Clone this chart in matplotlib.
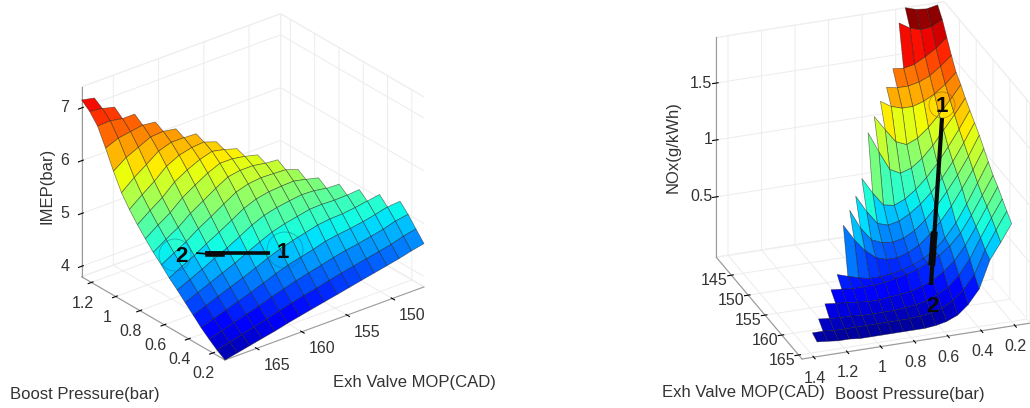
import numpy as np
import matplotlib
matplotlib.use("Agg")
import matplotlib.pyplot as plt
from matplotlib import cm
from matplotlib.colors import Normalize
from matplotlib.patches import Circle
from mpl_toolkits.mplot3d import proj3d
from mpl_toolkits.mplot3d.art3d import Poly3DCollection

plt.rcParams['font.family'] = ['Liberation Sans', 'DejaVu Sans']
TEXT_COLOR = '#333333'

# Left surface: each row is one MOP value (168.5 -> 146.5), entries go up in boost
imep_boost = [0.10, 0.166, 0.231, 0.297, 0.362, 0.428, 0.493, 0.559, 0.624, 0.690,
              0.756, 0.821, 0.887, 0.952, 1.018, 1.083, 1.149, 1.214, 1.280]
imep_mop = [168.5, 167.1, 165.75, 164.4, 163.0, 161.6, 160.25, 158.9, 157.5,
            156.1, 154.75, 153.4, 152.0, 150.6, 149.25, 147.9, 146.5]
imep_values = [
    [3.80, 3.90, 4.02, 4.15, 4.30, 4.45, 4.60, 4.74, 4.90, 5.05, 5.22, 5.40, 5.60, 5.83, 6.15, 6.50, 6.83, 7.02, 7.15],
    [3.85, 3.96, 4.09, 4.23, 4.39, 4.55, 4.71, 4.87, 5.04, 5.21, 5.39, 5.58, 5.79, 6.03, 6.32, 6.60, 6.84, 6.99, 7.10],
    [3.90, 4.02, 4.16, 4.31, 4.48, 4.65, 4.82, 4.99, 5.17, 5.35, 5.54, 5.74, 5.96, 6.19, 6.43, 6.64, 6.80, 6.93],
    [3.95, 4.08, 4.23, 4.39, 4.57, 4.75, 4.94, 5.13, 5.33, 5.53, 5.74, 5.95, 6.16, 6.36, 6.54, 6.68, 6.80],
    [4.00, 4.14, 4.30, 4.47, 4.66, 4.85, 5.05, 5.26, 5.47, 5.68, 5.89, 6.09, 6.28, 6.44, 6.56, 6.65],
    [4.06, 4.21, 4.38, 4.56, 4.76, 4.97, 5.18, 5.40, 5.62, 5.83, 6.03, 6.20, 6.34, 6.44, 6.52],
    [4.11, 4.27, 4.45, 4.65, 4.86, 5.08, 5.31, 5.54, 5.76, 5.96, 6.13, 6.27, 6.36, 6.43],
    [4.16, 4.33, 4.52, 4.73, 4.95, 5.18, 5.41, 5.63, 5.83, 6.00, 6.13, 6.22, 6.28],
    [4.21, 4.38, 4.58, 4.79, 5.02, 5.25, 5.47, 5.68, 5.86, 6.00, 6.09, 6.15],
    [4.26, 4.44, 4.64, 4.85, 5.08, 5.30, 5.51, 5.70, 5.85, 5.96, 6.03],
    [4.31, 4.49, 4.70, 4.92, 5.14, 5.35, 5.54, 5.71, 5.84, 5.94],
    [4.36, 4.54, 4.75, 4.96, 5.17, 5.36, 5.53, 5.66, 5.76],
    [4.41, 4.59, 4.79, 4.99, 5.18, 5.35, 5.49, 5.60],
    [4.46, 4.64, 4.84, 5.03, 5.21, 5.36, 5.48],
    [4.51, 4.69, 4.89, 5.08, 5.25, 5.38],
    [4.57, 4.76, 4.96, 5.14, 5.29],
    [4.62, 4.81, 5.00, 5.16],
]

# Right surface: each row is one MOP value (165 -> 143), entries go up in boost
nox_boost = [0.20, 0.264, 0.329, 0.393, 0.458, 0.522, 0.587, 0.651, 0.716, 0.780,
             0.844, 0.909, 0.973, 1.038, 1.102, 1.167, 1.231, 1.296, 1.36]
nox_mop = [165.0, 163.6, 162.25, 160.9, 159.5, 158.1, 156.75, 155.4, 154.0,
           152.6, 151.25, 149.9, 148.5, 147.1, 145.75, 144.4, 143.0]
nox_values = [
    [.83, .68, .54, .30, .18, .10, .06, .04, .03, .03, .03, .03, .03, .03, .03, .04, .04, .05, .06],
    [.89, .74, .58, .38, .26, .18, .13, .10, .09, .08, .08, .08, .08, .08, .08, .08, .08, .09, .09],
    [.95, .80, .64, .47, .34, .25, .20, .16, .14, .13, .12, .12, .12, .12, .13, .13, .14, .15],
    [1.01, .85, .69, .54, .42, .34, .28, .24, .21, .20, .19, .18, .18, .19, .20, .21, .22],
    [1.06, .90, .74, .60, .50, .43, .38, .34, .31, .29, .27, .26, .26, .26, .27, .28],
    [1.13, .96, .79, .64, .52, .43, .37, .33, .30, .28, .27, .27, .29, .32, .35],
    [1.20, 1.03, .88, .74, .62, .52, .44, .39, .36, .36, .39, .47, .58, .72],
    [1.27, 1.10, .95, .82, .70, .60, .52, .47, .45, .46, .50, .62, .79],
    [1.33, 1.17, 1.02, .89, .78, .69, .62, .57, .55, .58, .70, .85],
    [1.39, 1.24, 1.10, .97, .86, .77, .70, .66, .68, .80, .94],
    [1.45, 1.32, 1.20, 1.08, .98, .91, .88, .93, 1.10, 1.28],
    [1.52, 1.40, 1.29, 1.19, 1.11, 1.07, 1.11, 1.23, 1.36],
    [1.58, 1.49, 1.42, 1.37, 1.34, 1.34, 1.37, 1.43],
    [1.68, 1.60, 1.53, 1.49, 1.47, 1.47, 1.49],
    [1.79, 1.71, 1.65, 1.60, 1.58, 1.59],
    [1.90, 1.85, 1.84, 1.87, 1.93],
    [1.98, 1.96, 1.97, 2.00],
]

# tick labels, drawn by hand next to their ticks
boost_ticks_left = [0.2, 0.4, 0.6, 0.8, 1, 1.2]
mop_ticks_left = [150, 155, 160, 165]
imep_ticks = [4, 5, 6, 7]
boost_ticks_right = [0.2, 0.4, 0.6, 0.8, 1, 1.2, 1.4]
mop_ticks_right = [145, 150, 155, 160, 165]
nox_ticks = [0.5, 1, 1.5]

FIG_W, FIG_H = 1030, 408
fig = plt.figure(figsize=(FIG_W / 100, FIG_H / 100), dpi=100)


def draw_surface(ax, boost, mop, rows, vmin, vmax):
    # staircase edge: only cells with all four corners known get a polygon
    polys, means = [], []
    for j in range(len(rows) - 1):
        for i in range(min(len(rows[j]), len(rows[j + 1])) - 1):
            corners = [rows[j][i], rows[j][i + 1], rows[j + 1][i + 1], rows[j + 1][i]]
            polys.append([(boost[i], mop[j], corners[0]), (boost[i + 1], mop[j], corners[1]),
                          (boost[i + 1], mop[j + 1], corners[2]), (boost[i], mop[j + 1], corners[3])])
            means.append(np.mean(corners))
    colors = cm.jet(Normalize(vmin, vmax)(means))
    ax.add_collection3d(Poly3DCollection(polys, facecolors=colors,
                                         edgecolors=(0.1, 0.1, 0.1, 0.55), linewidths=0.5))


def style_axes(ax, xt, yt, zt):
    ax.set_xticks(xt)
    ax.set_yticks(yt)
    ax.set_zticks(zt)
    ax.set_xticklabels([])
    ax.set_yticklabels([])
    ax.set_zticklabels([])
    for axis in (ax.xaxis, ax.yaxis, ax.zaxis):
        axis.set_pane_color((1, 1, 1, 1))
        axis.pane.set_edgecolor('#eeeeee')
        axis.line.set_color('#999999')
        axis.line.set_linewidth(0.8)
        axis._axinfo['grid']['color'] = '#ececec'
        axis._axinfo['grid']['linewidth'] = 0.7
        axis._axinfo['tick']['color'] = '#999999'


def to_px(ax, p):
    x2, y2, _z = proj3d.proj_transform(p[0], p[1], p[2], ax.get_proj())
    return ax.transData.transform((x2, y2))


def place_axes(ax, a_3d, b_3d, a_px, b_px):
    # scale and move the axes so two box corners land on the wanted pixels
    for _ in range(3):
        fig.canvas.draw()
        pts = [to_px(ax, a_3d), to_px(ax, b_3d)]
        span = np.hypot(*(pts[1] - pts[0]))
        want = np.hypot(b_px[0] - a_px[0], b_px[1] - a_px[1])
        s = want / span
        pos = ax.get_position(original=True)
        cx, cy = (pos.x0 + pos.x1) / 2 * FIG_W, (pos.y0 + pos.y1) / 2 * FIG_H
        dx, dy = (pts[0][0] - cx) * s, (pts[0][1] - cy) * s
        ncx, ncy = a_px[0] - dx, (FIG_H - a_px[1]) - dy
        w, h = pos.width * s, pos.height * s
        ax.set_position([ncx / FIG_W - w / 2, ncy / FIG_H - h / 2, w, h])
    fig.canvas.draw()


# left chart
ax1 = fig.add_axes([0.02, 0.05, 0.45, 0.9], projection='3d', proj_type='ortho')
ax1.set_xlim(imep_boost[0], imep_boost[-1])
ax1.set_ylim(146.5, 168.5)
ax1.set_zlim(3.8, 7.4)
ax1.set_box_aspect((230, 254, 214))
ax1.view_init(elev=27.5, azim=141.5)
draw_surface(ax1, imep_boost, imep_mop, imep_values, 3.7, 7.45)
style_axes(ax1, boost_ticks_left, mop_ticks_left, imep_ticks)
ax1.zaxis.set_ticks_position('upper')
place_axes(ax1, (0.10, 168.5, 3.8), (0.10, 146.5, 3.8), (225, 360), (424, 287))

# right chart
ax2 = fig.add_axes([0.55, 0.05, 0.45, 0.9], projection='3d', proj_type='ortho')
ax2.set_xlim(0.11, 1.47)
ax2.set_ylim(140.5, 166)
ax2.set_zlim(-0.03, 1.9)
ax2.set_box_aspect((243, 251, 244))
ax2.view_init(elev=25.6, azim=70)
draw_surface(ax2, nox_boost, nox_mop, nox_values, 0, 1.95)
style_axes(ax2, boost_ticks_right, mop_ticks_right, nox_ticks)
place_axes(ax2, (1.47, 166, -0.03), (0.11, 166, -0.03), (802, 359), (1030, 323))

# overlay in pixel coordinates for the hand-drawn notes and all the text
over = fig.add_axes([0, 0, 1, 1], zorder=10)
over.set_xlim(0, FIG_W)
over.set_ylim(FIG_H, 0)
over.axis('off')
over.patch.set_alpha(0)


def tick_text(ax, points, labels, dx, dy, ha='center'):
    for p, s in zip(points, labels):
        px = to_px(ax, p)
        over.text(px[0] + dx, FIG_H - px[1] + dy, f"{s:g}", fontsize=11.5, color=TEXT_COLOR,
                  ha=ha, va='center')


tick_text(ax1, [(t, 168.5, 3.8) for t in boost_ticks_left], boost_ticks_left, -9, 21)
tick_text(ax1, [(0.10, t, 3.8) for t in mop_ticks_left], mop_ticks_left, 20, 17)
tick_text(ax1, [(1.28, 168.5, t) for t in imep_ticks], imep_ticks, -17, 0)
tick_text(ax2, [(t, 166, -0.03) for t in boost_ticks_right], boost_ticks_right, 1, 21)
tick_text(ax2, [(1.47, t, -0.03) for t in mop_ticks_right], mop_ticks_right, -17, 5)
tick_text(ax2, [(1.47, 140.5, t) for t in nox_ticks], nox_ticks, -4, 0, ha='right')

over.plot([270, 205], [253, 253], color='#0a0a0a', lw=2.6, solid_capstyle='butt')
over.plot([222, 208], [254, 254], color='#0a0a0a', lw=4)
over.plot([208, 197], [254, 253], color='#0a0a0a', lw=1.2)
over.plot([942, 931], [118, 285], color='#0a0a0a', lw=3, solid_capstyle='butt')
over.plot([934, 932], [235, 262], color='#0a0a0a', lw=5)
for c, r, col in [((285, 250), 18, '#0a6a8a'), ((175, 255), 16, '#0a6a8a'), ((942, 105), 13, '#7a4a00')]:
    over.add_patch(Circle(c, r, fill=False, color=col, lw=0.6, alpha=0.5))
for x, y, s in [(283, 253, '1'), (181, 257, '2'), (942, 106, '1'), (932, 306, '2')]:
    over.text(x, y, s, fontsize=16, fontweight='bold', color='#0a0a0a', ha='center', va='center')

for x, y, s in [(10, 395, 'Boost Pressure(bar)'), (333, 383, 'Exh Valve MOP(CAD)'),
                (662, 393, 'Exh Valve MOP(CAD)'), (835, 395, 'Boost Pressure(bar)')]:
    over.text(x, y, s, fontsize=12, color=TEXT_COLOR, ha='left', va='center')
over.text(47, 186, 'IMEP(bar)', fontsize=12, color=TEXT_COLOR, rotation=90, ha='center', va='center')
over.text(673, 147, 'NOx(g/kWh)', fontsize=12, color=TEXT_COLOR, rotation=90, ha='center', va='center')

fig.savefig('out.png', dpi=100)
